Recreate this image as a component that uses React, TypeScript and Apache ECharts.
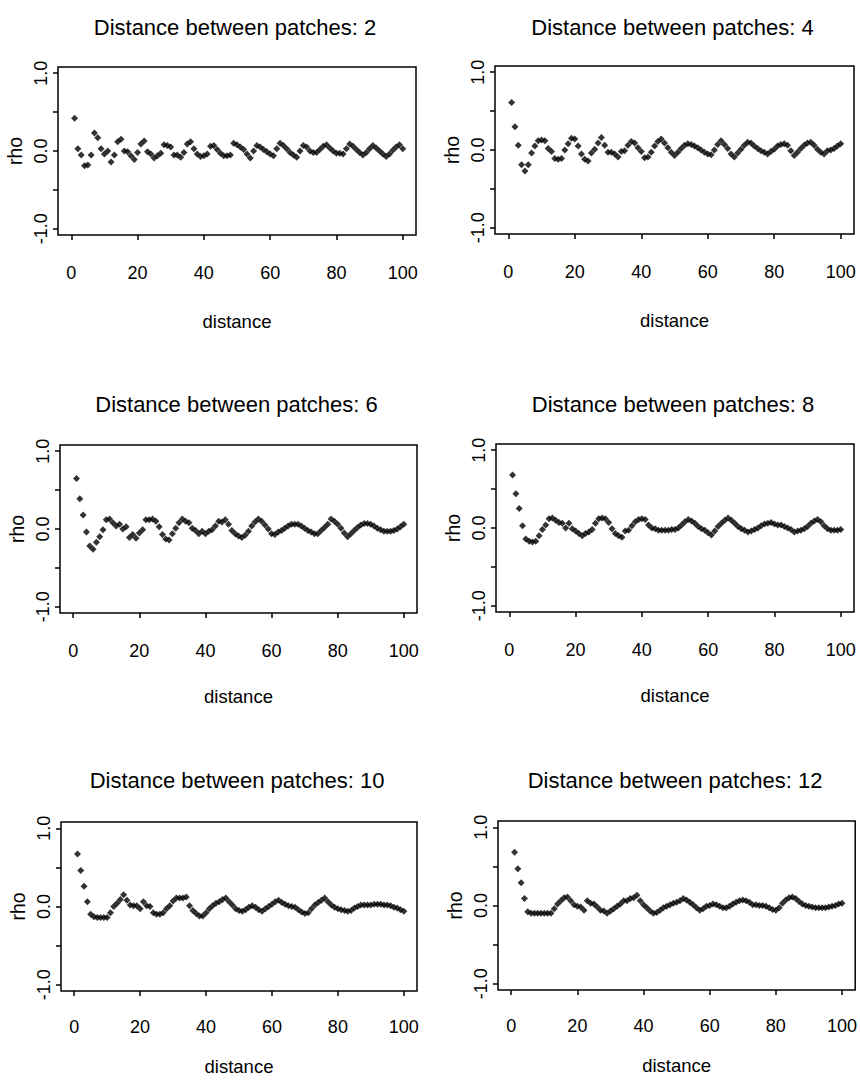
import React, { useEffect, useRef } from "react";
import * as echarts from "echarts";

const distances = Array.from({ length: 100 }, (_, i) => i + 1);

const panelTitles = [
  "Distance between patches: 2",
  "Distance between patches: 4",
  "Distance between patches: 6",
  "Distance between patches: 8",
  "Distance between patches: 10",
  "Distance between patches: 12",
];

const rhoPatch2 = [
  0.42, 0.03, -0.05, -0.19, -0.18, -0.05, 0.23, 0.17, 0.03, -0.04,
  0.0, -0.14, -0.05, 0.12, 0.15, 0.0, -0.01, -0.06, -0.11, -0.02,
  0.09, 0.13, -0.01, -0.04, -0.09, -0.06, -0.03, 0.08, 0.07, 0.05,
  -0.05, -0.05, -0.08, -0.02, 0.09, 0.12, 0.03, -0.04, -0.07, -0.06,
  -0.04, 0.06, 0.07, 0.02, -0.03, -0.06, -0.06, -0.05, 0.1, 0.08,
  0.05, 0.02, -0.04, -0.09, 0.0, 0.07, 0.05, 0.02, -0.01, -0.04,
  -0.06, 0.03, 0.1, 0.07, 0.03, -0.02, -0.05, -0.08, 0.0, 0.07,
  0.05, 0.0, -0.02, -0.02, 0.02, 0.06, 0.08, 0.04, 0.0, -0.03,
  -0.03, -0.04, 0.03, 0.09, 0.06, 0.02, -0.02, -0.05, -0.02, 0.03,
  0.07, 0.04, 0.0, -0.04, -0.07, -0.04, 0.01, 0.05, 0.08, 0.03,
];

const rhoPatch4 = [
  0.61, 0.3, 0.06, -0.19, -0.27, -0.19, -0.04, 0.05, 0.12, 0.13,
  0.12, 0.02, -0.02, -0.11, -0.12, -0.11, 0.0, 0.08, 0.15, 0.14,
  0.05, -0.05, -0.12, -0.14, -0.04, 0.01, 0.09, 0.16, 0.06, -0.03,
  -0.03, -0.05, -0.09, -0.02, -0.01, 0.06, 0.11, 0.09, 0.03, -0.02,
  -0.1, -0.09, -0.03, 0.05, 0.11, 0.14, 0.09, 0.03, -0.03, -0.07,
  -0.03, 0.02, 0.06, 0.08, 0.07, 0.05, 0.03, 0.0, -0.03, -0.05,
  -0.06, 0.0, 0.07, 0.12, 0.07, 0.02, -0.05, -0.09, -0.04, 0.01,
  0.06, 0.1, 0.09, 0.05, 0.02, -0.01, -0.03, -0.05, -0.02, 0.01,
  0.05, 0.07, 0.08, 0.06, -0.01, -0.07, -0.03, 0.02, 0.06, 0.09,
  0.1, 0.06, 0.01, -0.03, -0.05, -0.01, 0.0, 0.02, 0.05, 0.08,
];

const rhoPatch6 = [
  0.65, 0.39, 0.18, -0.04, -0.22, -0.26, -0.17, -0.1, -0.01, 0.12,
  0.13, 0.08, 0.04, 0.06, 0.0, 0.03, -0.11, -0.07, -0.12, -0.05,
  -0.01, 0.12, 0.12, 0.13, 0.1, 0.03, -0.07, -0.13, -0.14, -0.06,
  0.01, 0.08, 0.13, 0.1, 0.08, 0.01, -0.02, -0.06, -0.03, -0.06,
  -0.03, -0.01, 0.04, 0.1, 0.09, 0.12, 0.06, -0.02, -0.06, -0.09,
  -0.11, -0.08, -0.03, 0.04, 0.09, 0.13, 0.1, 0.05, 0.0, -0.06,
  -0.07, -0.04, -0.02, 0.01, 0.04, 0.06, 0.06, 0.06, 0.04, 0.01,
  -0.02, -0.04, -0.06, -0.06, -0.02, 0.02, 0.06, 0.13, 0.1, 0.06,
  0.01, -0.05, -0.1, -0.06, -0.02, 0.02, 0.05, 0.07, 0.07, 0.06,
  0.04, 0.01, -0.01, -0.03, -0.03, -0.03, -0.02, 0.0, 0.03, 0.06,
];

const rhoPatch8 = [
  0.68, 0.44, 0.25, 0.03, -0.14, -0.17, -0.18, -0.17, -0.1, -0.02,
  0.04, 0.12, 0.13, 0.1, 0.07, 0.06, 0.0, 0.06, -0.01, -0.04,
  -0.07, -0.1, -0.07, -0.05, -0.02, 0.06, 0.12, 0.13, 0.12, 0.07,
  -0.01, -0.07, -0.1, -0.12, -0.04, -0.03, 0.03, 0.08, 0.11, 0.12,
  0.11, 0.04, 0.0, -0.01, -0.03, -0.03, -0.03, -0.03, -0.02, -0.02,
  0.0, 0.04, 0.08, 0.11, 0.09, 0.06, 0.02, -0.01, -0.03, -0.06,
  -0.09, -0.04, 0.02, 0.06, 0.1, 0.13, 0.1, 0.06, 0.02, -0.01,
  -0.03, -0.05, -0.04, -0.02, 0.0, 0.03, 0.05, 0.06, 0.07, 0.05,
  0.04, 0.04, 0.02, 0.0, -0.02, -0.05, -0.04, -0.03, -0.01, 0.02,
  0.06, 0.09, 0.11, 0.08, 0.03, -0.01, -0.03, -0.03, -0.03, -0.02,
];

const rhoPatch10 = [
  0.67, 0.46, 0.26, 0.06, -0.1, -0.13, -0.14, -0.14, -0.14, -0.14,
  -0.08, 0.0, 0.04, 0.09, 0.15, 0.08, 0.02, 0.01, 0.01, -0.03,
  0.06, 0.01, 0.0, -0.08, -0.1, -0.1, -0.08, -0.03, 0.01, 0.07,
  0.11, 0.11, 0.11, 0.12, 0.01, -0.05, -0.09, -0.12, -0.12, -0.08,
  -0.03, 0.01, 0.04, 0.06, 0.09, 0.11, 0.06, 0.02, -0.03, -0.05,
  -0.06, -0.04, -0.01, 0.01, -0.01, -0.04, -0.06, -0.03, 0.0, 0.03,
  0.06, 0.08, 0.05, 0.03, 0.01, 0.0, -0.01, -0.04, -0.07, -0.09,
  -0.08, -0.03, 0.02, 0.05, 0.08, 0.11, 0.06, 0.02, -0.01, -0.03,
  -0.04, -0.05, -0.06, -0.05, -0.02, 0.0, 0.02, 0.02, 0.02, 0.02,
  0.03, 0.03, 0.03, 0.02, 0.02, 0.01, -0.01, -0.02, -0.04, -0.06,
];

const rhoPatch12 = [
  0.68, 0.47, 0.29, 0.09, -0.08, -0.1, -0.1, -0.1, -0.1, -0.1,
  -0.1, -0.1, -0.04, 0.02, 0.06, 0.1, 0.11, 0.06, 0.01, -0.01,
  -0.02, -0.06, 0.06, 0.03, 0.02, -0.02, -0.06, -0.07, -0.1, -0.07,
  -0.04, -0.01, 0.02, 0.06, 0.06, 0.09, 0.1, 0.13, 0.06, 0.01,
  -0.03, -0.07, -0.1, -0.09, -0.06, -0.03, -0.01, 0.01, 0.03, 0.04,
  0.06, 0.09, 0.07, 0.04, 0.01, -0.03, -0.06, -0.04, -0.01, 0.0,
  0.02, 0.01, -0.01, -0.03, -0.03, -0.01, 0.02, 0.04, 0.06, 0.07,
  0.06, 0.04, 0.01, 0.01, 0.0, 0.0, -0.01, -0.03, -0.05, -0.06,
  -0.03, 0.03, 0.07, 0.1, 0.11, 0.09, 0.05, 0.02, 0.0, -0.01,
  -0.02, -0.03, -0.03, -0.03, -0.03, -0.02, -0.01, 0.0, 0.02, 0.03,
];

const rhoSeries = [rhoPatch2, rhoPatch4, rhoPatch6, rhoPatch8, rhoPatch10, rhoPatch12];

const xTickValues = [0, 20, 40, 60, 80, 100];
const yTickValues = [-1, -0.5, 0, 0.5, 1];
const yLabelValues = [-1, 0, 1];

const FONT = "'Liberation Sans', Arial, Helvetica, sans-serif";
const INK = "#000";

const layout = [
  { left: 58, top: 67, width: 358, height: 168, titleTop: 11, tickGap: 29, nameGap: 77 },
  { left: 495, top: 66, width: 359, height: 168, titleTop: 11, tickGap: 29, nameGap: 77 },
  { left: 60, top: 445, width: 357, height: 168, titleTop: 388, tickGap: 29, nameGap: 74 },
  { left: 496, top: 444, width: 358, height: 168, titleTop: 388, tickGap: 29, nameGap: 74 },
  { left: 61, top: 822, width: 356, height: 169, titleTop: 764, tickGap: 27, nameGap: 66 },
  { left: 498, top: 821, width: 358, height: 169, titleTop: 764, tickGap: 27, nameGap: 66 },
];

export default function App() {
  const ref = useRef<HTMLDivElement>(null);

  useEffect(() => {
    if (!ref.current) return;
    const chart = echarts.init(ref.current, undefined, { renderer: "svg" });

    const titles = layout.map((l, i) => ({
      text: panelTitles[i],
      left: l.left + l.width / 2 - 7,
      top: l.titleTop,
      textAlign: "center",
      textStyle: { fontFamily: FONT, fontSize: 22, fontWeight: "normal", color: INK },
    }));

    const grids = layout.map((l) => ({
      left: l.left,
      top: l.top,
      width: l.width,
      height: l.height,
      show: true,
      borderColor: INK,
      borderWidth: 1.5,
      backgroundColor: "transparent",
      containLabel: false,
    }));

    const xAxes = layout.map((l, i) => ({
      type: "value",
      gridIndex: i,
      position: "bottom",
      min: -4,
      max: 104,
      name: "distance",
      nameLocation: "middle",
      nameGap: l.nameGap,
      nameTextStyle: { fontFamily: FONT, fontSize: 18.5, color: INK },
      axisLine: { show: false, onZero: false },
      splitLine: { show: false },
      axisTick: {
        show: true,
        inside: false,
        length: 5,
        customValues: xTickValues,
        lineStyle: { color: INK, width: 1.5 },
      },
      axisLabel: {
        show: true,
        margin: l.tickGap,
        customValues: xTickValues,
        fontFamily: FONT,
        fontSize: 18,
        color: INK,
      },
    }));

    const yAxes = layout.map((l, i) => ({
      type: "value",
      gridIndex: i,
      position: "left",
      min: -1.08,
      max: 1.08,
      name: "rho",
      nameLocation: "middle",
      nameRotate: 90,
      nameGap: 33,
      nameTextStyle: { fontFamily: FONT, fontSize: 19.5, color: INK },
      axisLine: { show: false, onZero: false },
      splitLine: { show: false },
      axisTick: {
        show: true,
        inside: false,
        length: 5,
        customValues: yTickValues,
        lineStyle: { color: INK, width: 1.5 },
      },
      axisLabel: {
        show: true,
        rotate: 90,
        margin: 8,
        customValues: yLabelValues,
        formatter: (v: number) => v.toFixed(1),
        fontFamily: FONT,
        fontSize: 18,
        color: INK,
      },
    }));

    const series = rhoSeries.map((vals, i) => ({
      type: "scatter",
      xAxisIndex: i,
      yAxisIndex: i,
      symbol: "diamond",
      symbolSize: 7,
      itemStyle: { color: "#000" },
      data: distances.map((d, k) => [d, vals[k]]),
    }));

    chart.setOption({
      animation: false,
      backgroundColor: "#fff",
      title: titles,
      grid: grids,
      xAxis: xAxes,
      yAxis: yAxes,
      series,
    });

    return () => chart.dispose();
  }, []);

  return (
    <div
      ref={ref}
      style={{ position: "absolute", left: 0, top: 0, width: 860, height: 1084 }}
    />
  );
}
